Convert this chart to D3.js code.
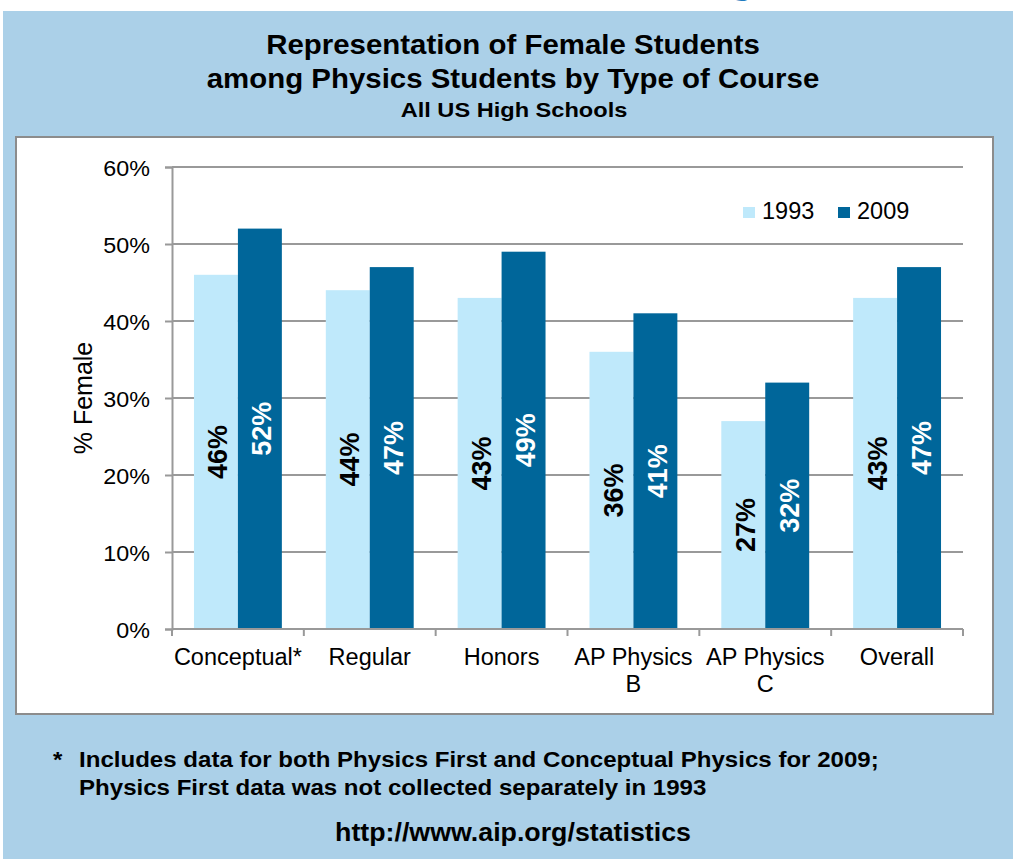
<!DOCTYPE html>
<html>
<head>
<meta charset="utf-8">
<script src="https://cdn.jsdelivr.net/npm/d3@7"></script>
<style>
	body { margin: 0; background: #fff; }
	svg text { font-family: "Liberation Sans", Arial, sans-serif; }
</style>
</head>
<body>
<div id="chart"></div>
<script>

// data
const categories = ["Conceptual*", "Regular", "Honors", "AP Physics B", "AP Physics C", "Overall"];
const years = ["1993", "2009"];
const values1993 = [46, 44, 43, 36, 27, 43];
const values2009 = [52, 47, 49, 41, 32, 47];
const yTicks = [0, 10, 20, 30, 40, 50, 60];

const width = 1013;
const height = 859;

const colors = {"1993": "#bfe9fb", "2009": "#00669a"};

let svg = d3.select("#chart")
	.append("svg")
	.attr("width", width)
	.attr("height", height);

//text a bit wider than the font, like the original picture
function wideText(parent, x, y, sx, size, txt, anchor){
	return parent.append("text")
		.attr("transform", `translate(${x},${y}) scale(${sx},1)`)
		.attr("text-anchor", anchor || "middle")
		.attr("font-size", size)
		.text(txt);
}

// cut off heading above the panel
svg.append("text")
	.attr("x", 730)
	.attr("y", -7)
	.attr("fill", "#1f7bbf")
	.attr("font-size", 40)
	.attr("font-weight", "bold")
	.text("g");

// blue panel
svg.append("rect")
	.attr("x", 3)
	.attr("y", 11)
	.attr("width", width - 3)
	.attr("height", height - 11)
	.attr("fill", "#abd0e8");

// titles
let titles = svg.append("g")
	.attr("font-weight", "bold")
	.attr("fill", "#000");

wideText(titles, 513, 54, 1.09, 27, "Representation of Female Students");
wideText(titles, 513, 88, 1.09, 27, "among Physics Students by Type of Course");
wideText(titles, 514, 117, 1.18, 20, "All US High Schools");

// white chart box
svg.append("rect")
	.attr("x", 16)
	.attr("y", 137)
	.attr("width", 977)
	.attr("height", 577)
	.attr("fill", "#fff")
	.attr("stroke", "#8c8c8c")
	.attr("stroke-width", 2);

const margin = {left: 172, right: 963, top: 167, bottom: 629};

let x0 = d3.scaleBand()
	.domain(categories)
	.range([margin.left, margin.right])
	.paddingInner(1/3)
	.paddingOuter(1/6);

let x1 = d3.scaleBand()
	.domain(years)
	.range([0, x0.bandwidth()]);

let y = d3.scaleLinear()
	.domain([0, 60])
	.range([margin.bottom, margin.top]);

// gridlines
svg.append("g")
	.selectAll("line")
	.data(yTicks.slice(1))
	.join("line")
	.attr("x1", margin.left)
	.attr("x2", margin.right)
	.attr("y1", d => y(d))
	.attr("y2", d => y(d))
	.attr("stroke", "#999")
	.attr("stroke-width", 2);

// y axis
let yAxis = svg.append("g")
	.attr("transform", `translate(${margin.left},0)`)
	.call(d3.axisLeft(y).tickValues(yTicks).tickFormat(d => d + "%").tickSize(7).tickPadding(0));

yAxis.select(".domain").attr("stroke", "#999").attr("stroke-width", 2);
yAxis.selectAll(".tick line").attr("stroke", "#999").attr("stroke-width", 2);
yAxis.selectAll(".tick text")
	.attr("x", null)
	.attr("dy", null)
	.attr("transform", "translate(-22,8) scale(1.06,1)")
	.attr("font-size", 22)
	.attr("fill", "#000")
	.attr("font-family", "Liberation Sans, Arial, sans-serif");

svg.append("text")
	.attr("transform", "translate(92,398) rotate(-90)")
	.attr("text-anchor", "middle")
	.attr("font-size", 25)
	.attr("fill", "#000")
	.text("% Female");

// bars
let rows = categories.map((c, i) => ({cat: c, vals: [
	{year: "1993", v: values1993[i]},
	{year: "2009", v: values2009[i]}
]}));

let groups = svg.append("g")
	.selectAll("g")
	.data(rows)
	.join("g")
	.attr("transform", d => `translate(${x0(d.cat)},0)`);

groups.selectAll("rect")
	.data(d => d.vals)
	.join("rect")
	.attr("x", d => x1(d.year))
	.attr("y", d => y(d.v))
	.attr("width", x1.bandwidth())
	.attr("height", d => y(0) - y(d.v))
	.attr("fill", d => colors[d.year]);

groups.selectAll("text")
	.data(d => d.vals)
	.join("text")
	.attr("transform", d => `translate(${x1(d.year) + x1.bandwidth() / 2 + 11.5},${(y(d.v) + y(0)) / 2}) rotate(-90)`)
	.attr("text-anchor", "middle")
	.attr("font-size", 27)
	.attr("font-weight", "bold")
	.attr("fill", d => d.year === "1993" ? "#000" : "#fff")
	.text(d => d.v + "%");

// x axis
let xAxis = svg.append("g");

xAxis.append("line")
	.attr("x1", margin.left)
	.attr("x2", margin.right)
	.attr("y1", y(0))
	.attr("y2", y(0))
	.attr("stroke", "#999")
	.attr("stroke-width", 2);

let xTickPos = categories.map(c => x0(c) - x0.step() * x0.paddingInner() / 2);
xTickPos.push(margin.right);

xAxis.selectAll(".xtick")
	.data(xTickPos)
	.join("line")
	.attr("class", "xtick")
	.attr("x1", d => d)
	.attr("x2", d => d)
	.attr("y1", y(0))
	.attr("y2", y(0) + 7)
	.attr("stroke", "#999")
	.attr("stroke-width", 2);

const xLabelLines = {"AP Physics B": ["AP Physics", "B"], "AP Physics C": ["AP Physics", "C"]};

xAxis.selectAll(".xlabel")
	.data(categories)
	.join("text")
	.attr("class", "xlabel")
	.attr("text-anchor", "middle")
	.attr("font-size", 23.5)
	.attr("fill", "#000")
	.each(function(d) {
		let lines = xLabelLines[d] || [d];
		let cx = x0(d) + x0.bandwidth() / 2;
		d3.select(this).selectAll("tspan")
			.data(lines)
			.join("tspan")
			.attr("x", cx)
			.attr("y", (l, i) => 665 + i * 27)
			.text(l => l);
	});

// legend
let legend = svg.append("g")
	.attr("transform", "translate(743,202)");

let legendItems = legend.selectAll("g")
	.data(years)
	.join("g")
	.attr("transform", (d, i) => `translate(${i * 95},0)`);

legendItems.append("rect")
	.attr("x", 0)
	.attr("y", 5)
	.attr("width", 12)
	.attr("height", 11)
	.attr("fill", d => colors[d]);

legendItems.append("text")
	.attr("x", 19)
	.attr("y", 17)
	.attr("font-size", 23.5)
	.attr("fill", "#000")
	.text(d => d);

// footnote
let foot = svg.append("g")
	.attr("font-weight", "bold")
	.attr("fill", "#000");

wideText(foot, 53, 767, 1.12, 21.5, "*", "start");
wideText(foot, 79, 767, 1.12, 21.5, "Includes data for both Physics First and Conceptual Physics for 2009;", "start");
wideText(foot, 79, 795, 1.12, 21.5, "Physics First data was not collected separately in 1993", "start");

wideText(foot, 513, 841, 1.03, 26, "http://www.aip.org/statistics");

</script>
</body>
</html>
